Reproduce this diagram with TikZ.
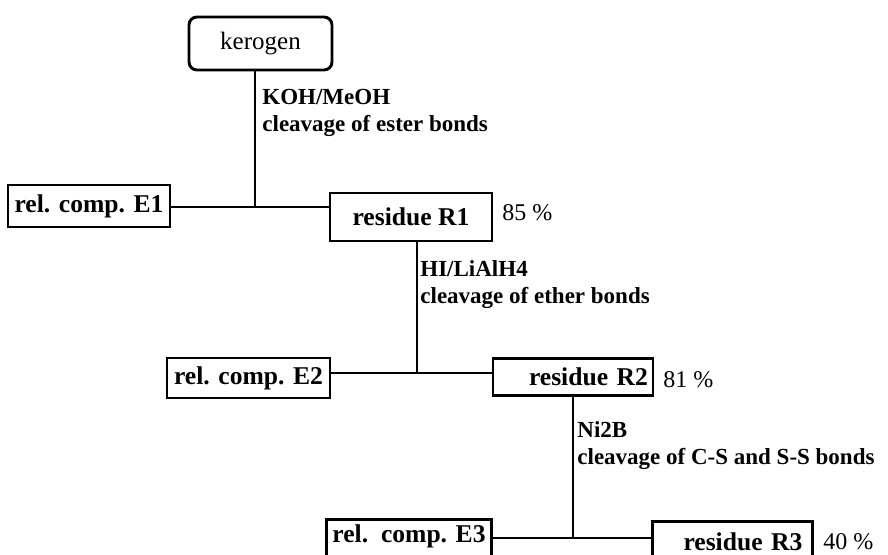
\documentclass[tikz,border=0pt]{standalone}
\usepackage{fontspec}
\setmainfont{Liberation Serif}
\usepackage{tikz}

\begin{document}
\begin{tikzpicture}[x=0.5pt,y=-0.5pt,
  stepbox/.style={draw,line width=1.45pt,inner xsep=3pt,inner ysep=0pt,
    font=\fontsize{12.8}{14}\selectfont\bfseries},
  resbox/.style={stepbox,inner xsep=5pt,text width=70pt,align=right},
  reag/.style={anchor=west,align=left,inner sep=0pt,
    font=\fontsize{11.5}{13.5}\selectfont\bfseries},
  pct/.style={anchor=west,inner sep=0pt,font=\fontsize{12}{14}\selectfont},
  link/.style={line width=1.45pt}]

% frame of the page
\useasboundingbox (0,0) rectangle (888,554);

% start material
\node[draw,line width=1.45pt,rounded corners=4pt,minimum width=71.5pt,
  minimum height=26.5pt,font=\fontsize{12.5}{14}\selectfont] (kerogen) at (260.5,43.5) {kerogen};

% first step
\node[stepbox,minimum width=81pt,minimum height=21pt] (E1) at (89,206) {rel. comp. E1};
\node[stepbox,minimum width=81pt,minimum height=24pt] (R1) at (411,217) {residue R1};
\node[pct] (p1) at (502,213) {85 \%};
\node[reag] (koh) at (262,113) {KOH/MeOH\\cleavage of ester bonds};

% second step
\node[stepbox,minimum width=81.5pt,minimum height=20pt] (E2) at (248.5,378) {rel. comp. E2};
\node[resbox,inner xsep=2.5pt,text width=75pt,minimum height=18.5pt] (R2) at (573,377) {residue R2};
\node[pct] (p2) at (663,380) {81 \%};
\node[reag] (hi) at (420,285) {HI/LiAlH4\\cleavage of ether bonds};

% third step (boxes run off the bottom)
\node[stepbox,anchor=north,minimum width=79pt,text height=11.5pt,text depth=7.5pt] (E3) at (409,518) {rel.~~comp. E3};
\node[resbox,anchor=north,text height=14.5pt,text depth=4pt] (R3) at (732.5,520) {residue R3};
\node[pct] (p3) at (823,542) {40 \%};
\node[reag] (nib) at (577,446) {Ni2B\\cleavage of C-S and S-S bonds};

% junctions
\coordinate (j1) at (255,207);
\coordinate (j2) at (417,373);
\coordinate (j3) at (573,538);

% connectors
\draw[link] (kerogen.south -| j1) -- (j1);
\draw[link] (E1.east |- j1) -- (R1.west |- j1);
\draw[link] (R1.south -| j2) -- (j2);
\draw[link] (E2.east |- j2) -- (R2.west |- j2);
\draw[link] (R2.south -| j3) -- (j3);
\draw[link] (E3.east |- j3) -- (R3.west |- j3);

\end{tikzpicture}
\end{document}
